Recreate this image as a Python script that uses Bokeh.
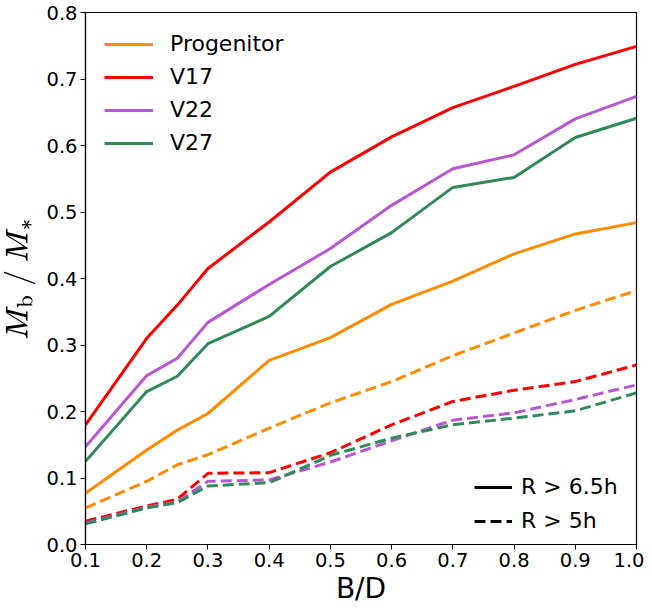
from bokeh.plotting import figure
from bokeh.models import Legend, LegendItem, FixedTicker, Range1d, NumeralTickFormatter
from bokeh.embed import file_html
from bokeh.resources import INLINE

bd = [0.1, 0.2, 0.25, 0.3, 0.4, 0.5, 0.6, 0.7, 0.8, 0.9, 1.0]

names = ["Progenitor", "V17", "V22", "V27"]
colors = ["#ff8c00", "#ff0000", "#ba55d3", "#2e8b57"]

solid_prog = [0.077, 0.142, 0.172, 0.197, 0.277, 0.311, 0.361, 0.396, 0.437, 0.467, 0.484]
solid_v17 = [0.180, 0.310, 0.360, 0.415, 0.485, 0.560, 0.613, 0.657, 0.689, 0.722, 0.749]
solid_v22 = [0.147, 0.254, 0.280, 0.334, 0.391, 0.445, 0.510, 0.565, 0.586, 0.640, 0.674]
solid_v27 = [0.125, 0.230, 0.253, 0.302, 0.343, 0.418, 0.469, 0.537, 0.552, 0.612, 0.641]

dash_prog = [0.055, 0.095, 0.120, 0.135, 0.175, 0.213, 0.245, 0.284, 0.318, 0.352, 0.382]
dash_v17 = [0.035, 0.058, 0.068, 0.107, 0.108, 0.138, 0.180, 0.215, 0.232, 0.245, 0.270]
dash_v22 = [0.032, 0.056, 0.064, 0.095, 0.097, 0.124, 0.156, 0.187, 0.198, 0.218, 0.240]
dash_v27 = [0.031, 0.055, 0.063, 0.088, 0.093, 0.134, 0.160, 0.180, 0.190, 0.201, 0.228]

x_ticks = [0.1, 0.2, 0.3, 0.4, 0.5, 0.6, 0.7, 0.8, 0.9, 1.0]
y_ticks = [0.0, 0.1, 0.2, 0.3, 0.4, 0.5, 0.6, 0.7, 0.8]

solids = [solid_prog, solid_v17, solid_v22, solid_v27]
dashes = [dash_prog, dash_v17, dash_v22, dash_v27]

FONT = "DejaVu Sans"

p = figure(width=644, height=606, output_backend="svg", toolbar_location=None,
           x_range=Range1d(0.1, 1.0), y_range=Range1d(0.0, 0.8),
           min_border_left=85, min_border_right=8, min_border_top=12, min_border_bottom=62)
p.frame_width = 551
p.frame_height = 532

p.xgrid.visible = False
p.ygrid.visible = False
p.outline_line_color = "black"
p.outline_line_width = 1.2
p.background_fill_color = "white"
p.border_fill_color = "white"

for ax in (p.xaxis[0], p.yaxis[0]):
    ax.major_label_text_font = FONT
    ax.major_label_text_font_size = "19.5px"
    ax.major_label_text_color = "black"
    ax.axis_label_text_font = FONT
    ax.axis_label_text_font_style = "normal"
    ax.axis_label_text_color = "black"
    ax.axis_line_color = "black"
    ax.axis_line_width = 1.2
    ax.major_tick_in = 0
    ax.major_tick_out = 5
    ax.major_tick_line_color = "black"
    ax.minor_tick_line_color = None
    ax.major_label_standoff = 3
    ax.formatter = NumeralTickFormatter(format="0.0")

p.xaxis.ticker = FixedTicker(ticks=x_ticks)
p.yaxis.ticker = FixedTicker(ticks=y_ticks)
p.xaxis.axis_label = "B/D"
p.xaxis.axis_label_text_font_size = "28px"
p.yaxis.axis_label = r"$$M_\mathrm{b}\ /\ M_*$$"
p.yaxis.axis_label_text_font_size = "25px"
p.xaxis.axis_label_standoff = 2
p.yaxis.axis_label_standoff = 8

items1 = []
for name, col, ys, yd in zip(names, colors, solids, dashes):
    r = p.line(bd, ys, line_color=col, line_width=3)
    p.line(bd, yd, line_color=col, line_width=3, line_dash="11 5")
    items1.append(LegendItem(label=name, renderers=[r]))

rs = p.line([0.1], [-1.0], line_color="black", line_width=3)
rd = p.line([0.1], [-1.0], line_color="black", line_width=3, line_dash="11 5")

leg1 = Legend(items=items1, location="top_left")
leg2 = Legend(items=[LegendItem(label="R > 6.5h", renderers=[rs]),
                     LegendItem(label="R > 5h", renderers=[rd])],
              location="bottom_right")
for lg in (leg1, leg2):
    lg.border_line_color = None
    lg.background_fill_alpha = 0
    lg.label_text_font = FONT
    lg.label_text_font_size = "22px"
    lg.label_text_color = "black"
    lg.glyph_height = 22
    lg.label_height = 22
p.add_layout(leg1)
p.add_layout(leg2)

leg1.glyph_width = 49
leg1.label_standoff = 17
leg1.spacing = 8
leg1.padding = 13
leg1.margin = 19

leg2.glyph_width = 38
leg2.label_standoff = 9
leg2.label_width = 104
leg2.spacing = 9
leg2.padding = 6
leg2.margin = 11

open("out.html", "w").write(file_html(p, INLINE))
